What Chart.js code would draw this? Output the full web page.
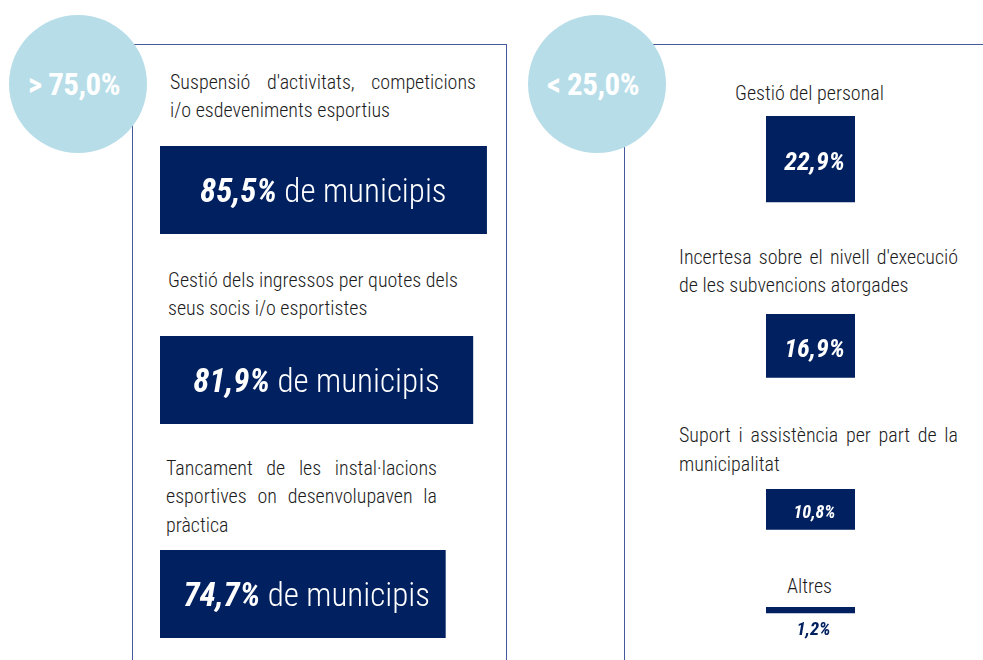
<!DOCTYPE html>
<html>
<head>
<meta charset="utf-8">
<script src="https://cdn.jsdelivr.net/npm/chart.js@4"></script>
<style>
  html, body { margin: 0; padding: 0; background: #fff; }
  #stage { position: relative; width: 983px; height: 660px; overflow: hidden; font-family: 'Roboto Condensed', 'Roboto', sans-serif; }
  .frame { position: absolute; border-style: solid; border-color: #46599a; box-sizing: border-box; }
  .circle { position: absolute; border-radius: 50%; background: #b7dde8; color: #fff; font-weight: 700; font-size: 31px;
            display: flex; align-items: center; justify-content: center; letter-spacing: -0.5px; }
  .circle span { position: relative; left: -4px; }
  .para { position: absolute; color: #1c1c1c; font-size: 20px; font-weight: 300; }
  .para div { white-space: nowrap; }
  .para div.j { text-align: justify; text-align-last: justify; white-space: normal; }
  canvas { position: absolute; }
</style>
</head>
<body>
<div id="stage">
  <div class="frame" style="left:132px; top:44px; width:375px; height:700px; border-width:1.5px 1.5px 0 1.5px;"></div>
  <div class="frame" style="left:624px; top:44px; width:400px; height:700px; border-width:1.5px 0 0 1.5px;"></div>
</div>
<script>
// ---------- data ----------
const groupLabels = ['> 75,0%', '< 25,0%'];

const leftCategories = [
  "Suspensió d'activitats, competicions\ni/o esdeveniments esportius",
  "Gestió dels ingressos per quotes dels\nseus socis i/o esportistes",
  "Tancament de les instal·lacions\nesportives on desenvolupaven la\npràctica"
];
const leftValues = [85.5, 81.9, 74.7];
const leftValueLabels = ['85,5%', '81,9%', '74,7%'];
const leftSuffix = ' de municipis';

const rightCategories = [
  "Gestió del personal",
  "Incertesa sobre el nivell d'execució\nde les subvencions atorgades",
  "Suport i assistència per part de la\nmunicipalitat",
  "Altres"
];
const rightValues = [22.9, 16.9, 10.8, 1.2];
const rightValueLabels = ['22,9%', '16,9%', '10,8%', '1,2%'];

// ---------- layout (positions / styles only) ----------
const NAVY = '#002060';
const stage = document.getElementById('stage');
const circlePos = [{cx: 78, cy: 84, r: 69}, {cx: 597, cy: 84, r: 69}];
const leftTextPos = [
  {x: 170, top: 67.5, w: 306, lh: 28, justify: true},
  {x: 168, top: 265.5, w: 300, lh: 28.3, justify: false},
  {x: 166, top: 453.5, w: 271, lh: 28.8, justify: true}
];
const leftBarPos = [{top: 146}, {top: 336}, {top: 550}];
const LEFT_X = 160, LEFT_W = 345, LEFT_H = 88, LEFT_PX_PER_UNIT = 3.82;

const rightTextPos = [
  {x: 670, top: 78.5, w: 279, lh: 28, center: true},
  {x: 679, top: 243, w: 279, lh: 28.4, justify: true},
  {x: 679, top: 420.5, w: 279, lh: 29, justify: true},
  {x: 670, top: 571.5, w: 279, lh: 28, center: true}
];
const rightBarPos = [
  {top: 116, h: 92, font: 26},
  {top: 314, h: 70, font: 26},
  {top: 489, h: 46, font: 18},
  {top: 607, h: 40, font: 18.5, below: true}
];
const RIGHT_X = 766, RIGHT_W = 89, RIGHT_PX_PER_UNIT = 3.75;

// ---------- decorations (circles + text) ----------
function addParagraph(text, p) {
  const d = document.createElement('div');
  d.className = 'para';
  d.style.left = p.x + 'px';
  d.style.top = p.top + 'px';
  d.style.width = p.w + 'px';
  d.style.lineHeight = p.lh + 'px';
  const lines = text.split('\n');
  lines.forEach((ln, i) => {
    const l = document.createElement('div');
    l.textContent = ln;
    if (p.center) l.style.textAlign = 'center';
    else if (p.justify && i < lines.length - 1) l.className = 'j';
    d.appendChild(l);
  });
  stage.appendChild(d);
}
groupLabels.forEach((t, i) => {
  const c = circlePos[i];
  const d = document.createElement('div');
  d.className = 'circle';
  d.style.left = (c.cx - c.r) + 'px';
  d.style.top = (c.cy - c.r) + 'px';
  d.style.width = d.style.height = (2 * c.r) + 'px';
  const s = document.createElement('span');
  s.textContent = t;
  d.appendChild(s);
  stage.appendChild(d);
});
leftCategories.forEach((t, i) => addParagraph(t, leftTextPos[i]));
rightCategories.forEach((t, i) => addParagraph(t, rightTextPos[i]));

// ---------- label plugins ----------
const leftLabelPlugin = {
  id: 'leftLabel',
  afterDatasetsDraw(chart) {
    const ctx = chart.ctx;
    const el = chart.getDatasetMeta(0).data[0];
    const i = chart.options.plugins.leftLabel.index;
    const big = leftValueLabels[i];
    ctx.save();
    const fb = "italic 700 33px 'Roboto Condensed', Roboto, sans-serif";
    const fr = "300 33px 'Roboto Condensed', Roboto, sans-serif";
    ctx.font = fb; const wb = ctx.measureText(big).width;
    ctx.font = fr; const wr = ctx.measureText(leftSuffix).width;
    const left = Math.min(el.x, el.base), right = Math.max(el.x, el.base);
    const cx = (left + right) / 2 + (chart.options.plugins.leftLabel.dx || 0);
    const x0 = cx - (wb + wr) / 2;
    const y = el.y + 12;
    ctx.fillStyle = '#fff';
    ctx.textBaseline = 'alphabetic';
    ctx.textAlign = 'left';
    ctx.font = fb; ctx.fillText(big, x0, y);
    ctx.font = fr; ctx.fillText(leftSuffix, x0 + wb, y);
    ctx.restore();
  }
};
const rightLabelPlugin = {
  id: 'rightLabel',
  afterDatasetsDraw(chart) {
    const ctx = chart.ctx;
    const el = chart.getDatasetMeta(0).data[0];
    const o = chart.options.plugins.rightLabel;
    const txt = rightValueLabels[o.index];
    ctx.save();
    ctx.font = "italic 700 " + o.font + "px 'Roboto Condensed', Roboto, sans-serif";
    ctx.textAlign = 'center';
    ctx.textBaseline = 'alphabetic';
    const top = Math.min(el.y, el.base), bottom = Math.max(el.y, el.base);
    const capH = o.font * 0.711;
    if (o.below) {
      ctx.fillStyle = NAVY;
      ctx.fillText(txt, el.x + 3, bottom + 9 + capH);
    } else {
      ctx.fillStyle = '#fff';
      ctx.fillText(txt, el.x + 4, (top + bottom) / 2 + capH / 2 + 2);
    }
    ctx.restore();
  }
};

// ---------- charts ----------
leftValues.forEach((v, i) => {
  const cv = document.createElement('canvas');
  cv.width = LEFT_W; cv.height = LEFT_H;
  cv.style.left = LEFT_X + 'px';
  cv.style.top = leftBarPos[i].top + 'px';
  cv.style.width = LEFT_W + 'px'; cv.style.height = LEFT_H + 'px';
  stage.appendChild(cv);
  new Chart(cv, {
    type: 'bar',
    data: { labels: [leftCategories[i]], datasets: [{ data: [v], backgroundColor: NAVY, borderWidth: 0,
      barPercentage: 1, categoryPercentage: 1 }] },
    options: {
      indexAxis: 'y', responsive: false, animation: false, devicePixelRatio: 1,
      layout: { padding: 0 },
      scales: {
        x: { display: false, min: 0, max: LEFT_W / LEFT_PX_PER_UNIT },
        y: { display: false }
      },
      plugins: { legend: { display: false }, tooltip: { enabled: false }, leftLabel: { index: i, dx: i === 2 ? 4 : 0 } }
    },
    plugins: [leftLabelPlugin]
  });
});

rightValues.forEach((v, i) => {
  const p = rightBarPos[i];
  const cv = document.createElement('canvas');
  cv.width = RIGHT_W; cv.height = p.h;
  cv.style.left = RIGHT_X + 'px';
  cv.style.top = p.top + 'px';
  cv.style.width = RIGHT_W + 'px'; cv.style.height = p.h + 'px';
  stage.appendChild(cv);
  new Chart(cv, {
    type: 'bar',
    data: { labels: [rightCategories[i]], datasets: [{ data: [v], backgroundColor: NAVY, borderWidth: 0,
      barPercentage: 1, categoryPercentage: 1, minBarLength: 6 }] },
    options: {
      responsive: false, animation: false, devicePixelRatio: 1,
      layout: { padding: 0 },
      scales: {
        x: { display: false },
        y: { display: false, reverse: true, min: 0, max: p.h / RIGHT_PX_PER_UNIT }
      },
      plugins: { legend: { display: false }, tooltip: { enabled: false },
        rightLabel: { index: i, font: p.font, below: !!p.below } }
    },
    plugins: [rightLabelPlugin]
  });
});
</script>
</body>
</html>
